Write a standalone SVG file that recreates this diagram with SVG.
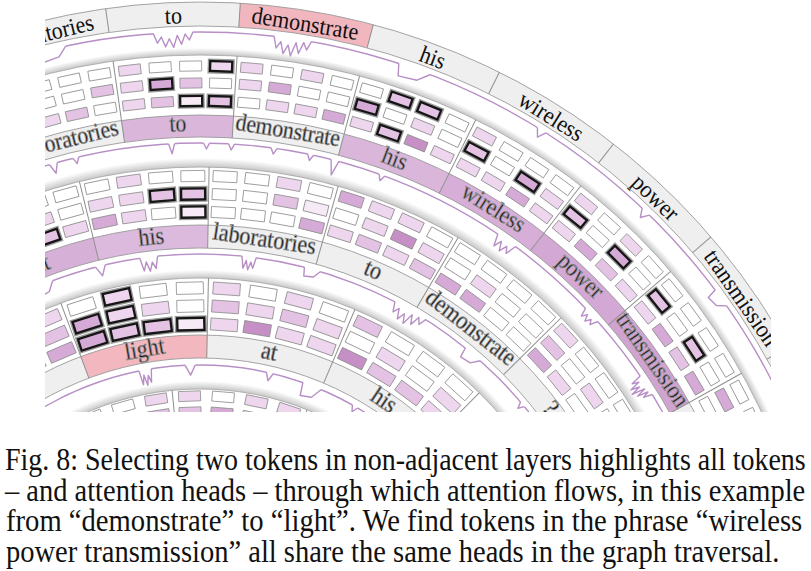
<svg xmlns="http://www.w3.org/2000/svg" width="811" height="571" viewBox="0 0 811 571">
<defs>
<style>
.bd{fill:none;stroke:#9a9a9a;stroke-width:.9}
.rb{fill:none;stroke:#b0b0b0;stroke-width:1}
.sp{stroke:#8f8f8f;stroke-width:1;fill:none}
.ln{fill:none;stroke:#b78fc6;stroke-width:1.4;vector-effect:non-scaling-stroke;stroke-linejoin:round}
.er{fill:none;stroke:#fff;stroke-width:3;vector-effect:non-scaling-stroke}
.tk{font-family:"Liberation Serif","Times New Roman",serif;fill:#111;text-anchor:middle}
.t1{font-size:24px}.t2{font-size:24.5px}.t3{font-size:25px}
.hd{stroke:#8c8c8c;stroke-width:.8}
.w{fill:#fff}.a{fill:#f6eaf6}.b{fill:#eed7ee}.c{fill:#e3c2e3}.d{fill:#d6aad6}.e{fill:#c690c6}
.H{fill:none;stroke:#9c9c9c;stroke-width:5}
.X{stroke:#151515;stroke-width:2.3}
.cap{font-family:"Liberation Serif","Times New Roman",serif;font-size:32px;fill:#111}
</style>
<clipPath id="clip"><rect x="45" y="0" width="726" height="412"/></clipPath>
<radialGradient id="sh" gradientUnits="userSpaceOnUse" cx="0" cy="0" r="673">
<stop offset="0" stop-color="#fff"/>
<stop offset=".425" stop-color="#fff"/><stop offset=".425" stop-color="#c8c8c8"/><stop offset=".4369" stop-color="#fff"/>
<stop offset=".5899" stop-color="#fff"/><stop offset=".5899" stop-color="#c8c8c8"/><stop offset=".6018" stop-color="#fff"/>
<stop offset=".7548" stop-color="#fff"/><stop offset=".7548" stop-color="#c8c8c8"/><stop offset=".7682" stop-color="#fff"/>
<stop offset=".9213" stop-color="#fff"/><stop offset=".9213" stop-color="#c8c8c8"/><stop offset=".9317" stop-color="#fff"/>
<stop offset="1" stop-color="#fff"/>
</radialGradient>
<rect id="h2" x="-11" y="-5" width="22" height="10"/>
<rect id="h3" x="-12" y="-5.5" width="24" height="11"/>
<rect id="h4" x="-13.5" y="-6" width="27" height="12"/>
<rect id="h5" x="-11" y="-5" width="22" height="10"/>
<g id="sV"><path class="er" d="M-5 0H5"/><path class="ln" d="M-5 0L0 10L5 0"/></g>
<g id="sv"><path class="er" d="M-3 0H3"/><path class="ln" d="M-3 0L0 6L3 0"/></g>
<g id="sZ"><path class="er" d="M-20 0H20"/><path class="ln" d="M-20 0L-16 10L-12 4L-8 14L-4 6L0 15L4 3L8 12L12 2L16 8L20 0"/></g>
<g id="sW"><path class="er" d="M-9 0H9"/><path class="ln" d="M-9 0L-6 12L-3 4L0 13L3 5L6 11L9 0"/></g>
<g id="sN"><path class="er" d="M-14 0H14"/><path class="ln" d="M-14 0L-11 11L5 9L14 0"/></g>
</defs>
<rect width="811" height="571" fill="#fff"/>
<g clip-path="url(#clip)">
<g transform="translate(200,675)">
<circle r="673" fill="url(#sh)"/>
<g id="ring-borders">
<circle class="rb" r="620"/><circle class="rb" r="508"/><circle class="rb" r="397"/><circle class="rb" r="286"/>
</g>

<!-- Layer 1 -->
<g id="layer1">
<circle r="661" fill="none" stroke="#efefef" stroke-width="24"/>
<g id="L1-demonstrate"><circle r="661" fill="none" stroke="#f2b6be" stroke-width="24" stroke-dasharray="132.56 5000" transform="rotate(-86.57)"/><text class="tk t1" transform="rotate(9.175)scale(.92,1)" y="-652">demonstrate</text></g>
<g id="L1-laboratories"><text class="tk t1" transform="rotate(-13.805)scale(.92,1)" y="-652">laboratories</text></g>
<g id="L1-to"><text class="tk t1" transform="rotate(-2.315)scale(.92,1)" y="-652">to</text></g>
<g id="L1-his"><text class="tk t1" transform="rotate(20.665)scale(.92,1)" y="-652">his</text></g>
<g id="L1-wireless"><text class="tk t1" transform="rotate(32.155)scale(.92,1)" y="-652">wireless</text></g>
<g id="L1-power"><text class="tk t1" transform="rotate(43.645)scale(.92,1)" y="-652">power</text></g>
<g id="L1-transmission"><text class="tk t1" transform="rotate(55.135)scale(.92,1)" y="-652">transmission</text></g>
<circle class="bd" r="649"/><circle class="bd" r="673"/>
<g class="sp">
<path transform="rotate(-8.06)" d="M0-649V-673"/><path transform="rotate(3.43)" d="M0-649V-673"/><path transform="rotate(14.92)" d="M0-649V-673"/><path transform="rotate(26.41)" d="M0-649V-673"/><path transform="rotate(37.9)" d="M0-649V-673"/><path transform="rotate(49.39)" d="M0-649V-673"/><path transform="rotate(60.88)" d="M0-649V-673"/>
</g>
</g>

<!-- Layer 2 -->
<g id="layer2">
<circle r="549" fill="none" stroke="#efefef" stroke-width="22"/>
<g class="hd">
<g id="L2-laboratories">
<text class="tk t2" transform="rotate(-13.805)scale(.88,1)" y="-544">laboratories</text>
<use href="#h2" class="w" transform="rotate(-18.11)translate(0,-609)"/><use href="#h2" class="w" transform="rotate(-15.24)translate(0,-609)"/><use href="#h2" class="w" transform="rotate(-12.37)translate(0,-609)"/><use href="#h2" class="w" transform="rotate(-9.5)translate(0,-609)"/>
<use href="#h2" class="b" transform="rotate(-18.11)translate(0,-592)"/><use href="#h2" class="w" transform="rotate(-15.24)translate(0,-592)"/><use href="#h2" class="w" transform="rotate(-12.37)translate(0,-592)"/><use href="#h2" class="c" transform="rotate(-9.5)translate(0,-592)"/>
<use href="#h2" class="b" transform="rotate(-18.11)translate(0,-574)"/><use href="#h2" class="b" transform="rotate(-15.24)translate(0,-574)"/><use href="#h2" class="c" transform="rotate(-12.37)translate(0,-574)"/><use href="#h2" class="w" transform="rotate(-9.5)translate(0,-574)"/>
</g>
<g id="L2-to">
<circle r="549" fill="none" stroke="#dab6db" stroke-width="22" stroke-dasharray="110.1 5000" transform="rotate(-98.06)"/>
<text class="tk t2" transform="rotate(-2.315)scale(.88,1)" y="-544">to</text>
<use href="#h2" class="b" transform="rotate(-6.62)translate(0,-609)"/><use href="#h2" class="w" transform="rotate(-3.75)translate(0,-609)"/><use href="#h2" class="w" transform="rotate(-0.88)translate(0,-609)"/>
<use href="#h2" class="b" transform="rotate(-6.62)translate(0,-592)"/><use href="#h2" class="c" transform="rotate(-0.88)translate(0,-592)"/><use href="#h2" class="w" transform="rotate(1.99)translate(0,-592)"/>
<use href="#h2" class="b" transform="rotate(-6.62)translate(0,-574)"/><use href="#h2" class="c" transform="rotate(-3.75)translate(0,-574)"/>
<use href="#h2" class="H" transform="rotate(1.99)translate(0,-609)"/><use href="#h2" class="X b" transform="rotate(1.99)translate(0,-609)"/>
<use href="#h2" class="H" transform="rotate(-3.75)translate(0,-592)"/><use href="#h2" class="X d" transform="rotate(-3.75)translate(0,-592)"/>
<use href="#h2" class="H" transform="rotate(-0.88)translate(0,-574)"/><use href="#h2" class="X a" transform="rotate(-0.88)translate(0,-574)"/>
<use href="#h2" class="H" transform="rotate(1.99)translate(0,-574)"/><use href="#h2" class="X c" transform="rotate(1.99)translate(0,-574)"/>
</g>
<g id="L2-demonstrate">
<text class="tk t2" transform="rotate(9.175)scale(.88,1)" y="-544">demonstrate</text>
<use href="#h2" class="b" transform="rotate(4.87)translate(0,-609)"/><use href="#h2" class="w" transform="rotate(7.74)translate(0,-609)"/><use href="#h2" class="b" transform="rotate(10.61)translate(0,-609)"/><use href="#h2" class="w" transform="rotate(13.48)translate(0,-609)"/>
<use href="#h2" class="b" transform="rotate(4.87)translate(0,-592)"/><use href="#h2" class="d" transform="rotate(7.74)translate(0,-592)"/><use href="#h2" class="w" transform="rotate(10.61)translate(0,-592)"/><use href="#h2" class="w" transform="rotate(13.48)translate(0,-592)"/>
<use href="#h2" class="w" transform="rotate(4.87)translate(0,-574)"/><use href="#h2" class="b" transform="rotate(7.74)translate(0,-574)"/><use href="#h2" class="b" transform="rotate(10.61)translate(0,-574)"/><use href="#h2" class="d" transform="rotate(13.48)translate(0,-574)"/>
</g>
<g id="L2-his">
<circle r="549" fill="none" stroke="#dab6db" stroke-width="22" stroke-dasharray="110.1 5000" transform="rotate(-75.08)"/>
<text class="tk t2" transform="rotate(20.665)scale(.88,1)" y="-544">his</text>
<use href="#h2" class="w" transform="rotate(16.36)translate(0,-609)"/><use href="#h2" class="w" transform="rotate(24.97)translate(0,-609)"/>
<use href="#h2" class="w" transform="rotate(19.23)translate(0,-592)"/><use href="#h2" class="b" transform="rotate(22.1)translate(0,-592)"/><use href="#h2" class="w" transform="rotate(24.97)translate(0,-592)"/>
<use href="#h2" class="b" transform="rotate(16.36)translate(0,-574)"/><use href="#h2" class="e" transform="rotate(22.1)translate(0,-574)"/><use href="#h2" class="b" transform="rotate(24.97)translate(0,-574)"/>
<use href="#h2" class="H" transform="rotate(19.23)translate(0,-609)"/><use href="#h2" class="X c" transform="rotate(19.23)translate(0,-609)"/>
<use href="#h2" class="H" transform="rotate(22.1)translate(0,-609)"/><use href="#h2" class="X c" transform="rotate(22.1)translate(0,-609)"/>
<use href="#h2" class="H" transform="rotate(16.36)translate(0,-592)"/><use href="#h2" class="X d" transform="rotate(16.36)translate(0,-592)"/>
<use href="#h2" class="H" transform="rotate(19.23)translate(0,-574)"/><use href="#h2" class="X c" transform="rotate(19.23)translate(0,-574)"/>
</g>
<g id="L2-wireless">
<circle r="549" fill="none" stroke="#d6aed7" stroke-width="22" stroke-dasharray="110.1 5000" transform="rotate(-63.59)"/>
<text class="tk t2" transform="rotate(32.155)scale(.88,1)" y="-544">wireless</text>
<use href="#h2" class="b" transform="rotate(27.85)translate(0,-609)"/><use href="#h2" class="w" transform="rotate(30.72)translate(0,-609)"/><use href="#h2" class="w" transform="rotate(33.59)translate(0,-609)"/><use href="#h2" class="w" transform="rotate(36.46)translate(0,-609)"/>
<use href="#h2" class="w" transform="rotate(30.72)translate(0,-592)"/><use href="#h2" class="b" transform="rotate(36.46)translate(0,-592)"/>
<use href="#h2" class="b" transform="rotate(27.85)translate(0,-574)"/><use href="#h2" class="b" transform="rotate(30.72)translate(0,-574)"/><use href="#h2" class="d" transform="rotate(33.59)translate(0,-574)"/><use href="#h2" class="b" transform="rotate(36.46)translate(0,-574)"/>
<use href="#h2" class="H" transform="rotate(27.85)translate(0,-592)"/><use href="#h2" class="X c" transform="rotate(27.85)translate(0,-592)"/>
<use href="#h2" class="H" transform="rotate(33.59)translate(0,-592)"/><use href="#h2" class="X d" transform="rotate(33.59)translate(0,-592)"/>
</g>
<g id="L2-power">
<circle r="549" fill="none" stroke="#d3a8d4" stroke-width="22" stroke-dasharray="110.1 5000" transform="rotate(-52.1)"/>
<text class="tk t2" transform="rotate(43.645)scale(.88,1)" y="-544">power</text>
<use href="#h2" class="b" transform="rotate(39.34)translate(0,-609)"/><use href="#h2" class="w" transform="rotate(42.21)translate(0,-609)"/><use href="#h2" class="b" transform="rotate(45.08)translate(0,-609)"/><use href="#h2" class="w" transform="rotate(47.95)translate(0,-609)"/>
<use href="#h2" class="w" transform="rotate(42.21)translate(0,-592)"/><use href="#h2" class="w" transform="rotate(47.95)translate(0,-592)"/>
<use href="#h2" class="b" transform="rotate(39.34)translate(0,-574)"/><use href="#h2" class="d" transform="rotate(42.21)translate(0,-574)"/><use href="#h2" class="c" transform="rotate(45.08)translate(0,-574)"/><use href="#h2" class="b" transform="rotate(47.95)translate(0,-574)"/>
<use href="#h2" class="H" transform="rotate(39.34)translate(0,-592)"/><use href="#h2" class="X c" transform="rotate(39.34)translate(0,-592)"/>
<use href="#h2" class="H" transform="rotate(45.08)translate(0,-592)"/><use href="#h2" class="X d" transform="rotate(45.08)translate(0,-592)"/>
</g>
<g id="L2-transmission">
<circle r="549" fill="none" stroke="#d0a3d1" stroke-width="22" stroke-dasharray="110.1 5000" transform="rotate(-40.61)"/>
<text class="tk t2" transform="rotate(55.135)scale(.88,1)" y="-544">transmission</text>
<use href="#h2" class="w" transform="rotate(50.83)translate(0,-609)"/><use href="#h2" class="w" transform="rotate(53.7)translate(0,-609)"/><use href="#h2" class="w" transform="rotate(56.57)translate(0,-609)"/><use href="#h2" class="w" transform="rotate(59.44)translate(0,-609)"/>
<use href="#h2" class="w" transform="rotate(53.7)translate(0,-592)"/><use href="#h2" class="w" transform="rotate(59.44)translate(0,-592)"/>
<use href="#h2" class="b" transform="rotate(50.83)translate(0,-574)"/><use href="#h2" class="d" transform="rotate(53.7)translate(0,-574)"/><use href="#h2" class="c" transform="rotate(56.57)translate(0,-574)"/><use href="#h2" class="d" transform="rotate(59.44)translate(0,-574)"/>
<use href="#h2" class="H" transform="rotate(50.83)translate(0,-592)"/><use href="#h2" class="X c" transform="rotate(50.83)translate(0,-592)"/>
<use href="#h2" class="H" transform="rotate(56.57)translate(0,-592)"/><use href="#h2" class="X c" transform="rotate(56.57)translate(0,-592)"/>
</g>
<g id="L2-next">
<use href="#h2" class="w" transform="rotate(62.32)translate(0,-609)"/><use href="#h2" class="w" transform="rotate(65.19)translate(0,-609)"/>
<use href="#h2" class="d" transform="rotate(62.32)translate(0,-592)"/><use href="#h2" class="w" transform="rotate(65.19)translate(0,-592)"/>
<use href="#h2" class="w" transform="rotate(62.32)translate(0,-574)"/><use href="#h2" class="b" transform="rotate(65.19)translate(0,-574)"/>
</g>
</g>
<circle class="bd" r="538"/><circle class="bd" r="560"/>
<g class="sp">
<path transform="rotate(-8.06)" d="M0-538V-620"/><path transform="rotate(3.43)" d="M0-538V-620"/><path transform="rotate(14.92)" d="M0-538V-620"/><path transform="rotate(26.41)" d="M0-538V-620"/><path transform="rotate(37.9)" d="M0-538V-620"/><path transform="rotate(49.39)" d="M0-538V-620"/><path transform="rotate(60.88)" d="M0-538V-620"/>
</g>
</g>

<!-- Layer 3 -->
<g id="layer3">
<circle r="438.5" fill="none" stroke="#efefef" stroke-width="23"/>
<g class="hd">
<g id="L3-at">
<circle r="438.5" fill="none" stroke="#d6b0d7" stroke-width="23" stroke-dasharray="112.96 5000" transform="rotate(-118.49)"/>
<text class="tk t3" transform="rotate(-21.11)scale(.88,1)" y="-433">at</text>
<use href="#h3" class="w" transform="rotate(-19.27)translate(0,-499)"/><use href="#h3" class="w" transform="rotate(-15.58)translate(0,-499)"/>
<use href="#h3" class="b" transform="rotate(-19.27)translate(0,-481)"/><use href="#h3" class="w" transform="rotate(-15.58)translate(0,-481)"/>
<use href="#h3" class="b" transform="rotate(-15.58)translate(0,-463)"/>
<use href="#h3" class="H" transform="rotate(-19.27)translate(0,-463)"/><use href="#h3" class="X c" transform="rotate(-19.27)translate(0,-463)"/>
</g>
<g id="L3-his">
<circle r="438.5" fill="none" stroke="#dcbadd" stroke-width="23" stroke-dasharray="112.96 5000" transform="rotate(-103.73)"/>
<text class="tk t3" transform="rotate(-6.35)scale(.88,1)" y="-433">his</text>
<use href="#h3" class="w" transform="rotate(-11.89)translate(0,-499)"/><use href="#h3" class="b" transform="rotate(-8.2)translate(0,-499)"/><use href="#h3" class="w" transform="rotate(-4.51)translate(0,-499)"/><use href="#h3" class="w" transform="rotate(-0.82)translate(0,-499)"/>
<use href="#h3" class="b" transform="rotate(-11.89)translate(0,-481)"/><use href="#h3" class="b" transform="rotate(-8.2)translate(0,-481)"/>
<use href="#h3" class="d" transform="rotate(-11.89)translate(0,-463)"/><use href="#h3" class="b" transform="rotate(-8.2)translate(0,-463)"/><use href="#h3" class="w" transform="rotate(-4.51)translate(0,-463)"/>
<use href="#h3" class="H" transform="rotate(-4.51)translate(0,-481)"/><use href="#h3" class="X c" transform="rotate(-4.51)translate(0,-481)"/>
<use href="#h3" class="H" transform="rotate(-0.82)translate(0,-481)"/><use href="#h3" class="X c" transform="rotate(-0.82)translate(0,-481)"/>
<use href="#h3" class="H" transform="rotate(-0.82)translate(0,-463)"/><use href="#h3" class="X a" transform="rotate(-0.82)translate(0,-463)"/>
</g>
<g id="L3-laboratories">
<text class="tk t3" transform="rotate(8.41)scale(.88,1)" y="-433">laboratories</text>
<use href="#h3" class="w" transform="rotate(2.88)translate(0,-499)"/><use href="#h3" class="w" transform="rotate(6.57)translate(0,-499)"/><use href="#h3" class="b" transform="rotate(10.26)translate(0,-499)"/><use href="#h3" class="w" transform="rotate(13.95)translate(0,-499)"/>
<use href="#h3" class="w" transform="rotate(2.88)translate(0,-481)"/><use href="#h3" class="w" transform="rotate(6.57)translate(0,-481)"/><use href="#h3" class="c" transform="rotate(10.26)translate(0,-481)"/><use href="#h3" class="a" transform="rotate(13.95)translate(0,-481)"/>
<use href="#h3" class="w" transform="rotate(2.88)translate(0,-463)"/><use href="#h3" class="w" transform="rotate(6.57)translate(0,-463)"/><use href="#h3" class="w" transform="rotate(10.26)translate(0,-463)"/><use href="#h3" class="d" transform="rotate(13.95)translate(0,-463)"/>
</g>
<g id="L3-to">
<text class="tk t3" transform="rotate(23.17)scale(.88,1)" y="-433">to</text>
<use href="#h3" class="d" transform="rotate(17.64)translate(0,-499)"/><use href="#h3" class="b" transform="rotate(21.33)translate(0,-499)"/><use href="#h3" class="b" transform="rotate(25.02)translate(0,-499)"/><use href="#h3" class="w" transform="rotate(28.71)translate(0,-499)"/>
<use href="#h3" class="w" transform="rotate(17.64)translate(0,-481)"/><use href="#h3" class="b" transform="rotate(21.33)translate(0,-481)"/><use href="#h3" class="e" transform="rotate(25.02)translate(0,-481)"/><use href="#h3" class="b" transform="rotate(28.71)translate(0,-481)"/>
<use href="#h3" class="b" transform="rotate(17.64)translate(0,-463)"/><use href="#h3" class="c" transform="rotate(21.33)translate(0,-463)"/><use href="#h3" class="b" transform="rotate(25.02)translate(0,-463)"/><use href="#h3" class="c" transform="rotate(28.71)translate(0,-463)"/>
</g>
<g id="L3-demonstrate">
<text class="tk t3" transform="rotate(37.93)scale(.88,1)" y="-433">demonstrate</text>
<use href="#h3" class="w" transform="rotate(32.4)translate(0,-499)"/><use href="#h3" class="w" transform="rotate(36.09)translate(0,-499)"/><use href="#h3" class="w" transform="rotate(39.78)translate(0,-499)"/><use href="#h3" class="w" transform="rotate(43.47)translate(0,-499)"/>
<use href="#h3" class="w" transform="rotate(32.4)translate(0,-481)"/><use href="#h3" class="b" transform="rotate(36.09)translate(0,-481)"/><use href="#h3" class="w" transform="rotate(39.78)translate(0,-481)"/><use href="#h3" class="w" transform="rotate(43.47)translate(0,-481)"/>
<use href="#h3" class="d" transform="rotate(32.4)translate(0,-463)"/><use href="#h3" class="d" transform="rotate(36.09)translate(0,-463)"/><use href="#h3" class="w" transform="rotate(39.78)translate(0,-463)"/><use href="#h3" class="w" transform="rotate(43.47)translate(0,-463)"/>
</g>
<g id="L3-q">
<text class="tk t3" transform="rotate(52.69)scale(.88,1)" y="-433">?</text>
<use href="#h3" class="b" transform="rotate(47.16)translate(0,-499)"/><use href="#h3" class="w" transform="rotate(50.85)translate(0,-499)"/><use href="#h3" class="w" transform="rotate(54.54)translate(0,-499)"/><use href="#h3" class="w" transform="rotate(58.23)translate(0,-499)"/>
<use href="#h3" class="c" transform="rotate(47.16)translate(0,-481)"/><use href="#h3" class="w" transform="rotate(50.85)translate(0,-481)"/><use href="#h3" class="b" transform="rotate(54.54)translate(0,-481)"/><use href="#h3" class="w" transform="rotate(58.23)translate(0,-481)"/>
<use href="#h3" class="d" transform="rotate(47.16)translate(0,-463)"/><use href="#h3" class="b" transform="rotate(50.85)translate(0,-463)"/><use href="#h3" class="w" transform="rotate(54.54)translate(0,-463)"/><use href="#h3" class="w" transform="rotate(58.23)translate(0,-463)"/>
</g>
</g>
<circle class="bd" r="427"/><circle class="bd" r="450"/>
<g class="sp">
<path transform="rotate(-13.73)" d="M0-427V-508"/><path transform="rotate(1.03)" d="M0-427V-508"/><path transform="rotate(15.79)" d="M0-427V-508"/><path transform="rotate(30.55)" d="M0-427V-508"/><path transform="rotate(45.31)" d="M0-427V-508"/><path transform="rotate(60.07)" d="M0-427V-508"/>
</g>
</g>

<!-- Layer 4 -->
<g id="layer4">
<circle r="328.5" fill="none" stroke="#efefef" stroke-width="23"/>
<g class="hd">
<g id="L4-prev">
<use href="#h4" class="w" transform="rotate(-28.67)translate(0,-387)"/><use href="#h4" class="b" transform="rotate(-23.24)translate(0,-387)"/>
<use href="#h4" class="w" transform="rotate(-28.67)translate(0,-369)"/><use href="#h4" class="c" transform="rotate(-23.24)translate(0,-369)"/>
<use href="#h4" class="b" transform="rotate(-28.67)translate(0,-351)"/><use href="#h4" class="d" transform="rotate(-23.24)translate(0,-351)"/>
</g>
<g id="L4-light">
<circle r="328.5" fill="none" stroke="#f3b7bf" stroke-width="23" stroke-dasharray="124.65 5000" transform="rotate(-110.52)"/>
<text class="tk t3" transform="rotate(-9.65)scale(.88,1)" y="-323">light</text>
<use href="#h4" class="w" transform="rotate(-17.8)translate(0,-387)"/><use href="#h4" class="w" transform="rotate(-6.93)translate(0,-387)"/><use href="#h4" class="w" transform="rotate(-1.5)translate(0,-387)"/>
<use href="#h4" class="b" transform="rotate(-6.93)translate(0,-369)"/><use href="#h4" class="w" transform="rotate(-1.5)translate(0,-369)"/>
<use href="#h4" class="H" transform="rotate(-12.37)translate(0,-387)"/><use href="#h4" class="X b" transform="rotate(-12.37)translate(0,-387)"/>
<use href="#h4" class="H" transform="rotate(-17.8)translate(0,-369)"/><use href="#h4" class="X d" transform="rotate(-17.8)translate(0,-369)"/>
<use href="#h4" class="H" transform="rotate(-12.37)translate(0,-369)"/><use href="#h4" class="X b" transform="rotate(-12.37)translate(0,-369)"/>
<use href="#h4" class="H" transform="rotate(-17.8)translate(0,-351)"/><use href="#h4" class="X d" transform="rotate(-17.8)translate(0,-351)"/>
<use href="#h4" class="H" transform="rotate(-12.37)translate(0,-351)"/><use href="#h4" class="X c" transform="rotate(-12.37)translate(0,-351)"/>
<use href="#h4" class="H" transform="rotate(-6.93)translate(0,-351)"/><use href="#h4" class="X c" transform="rotate(-6.93)translate(0,-351)"/>
<use href="#h4" class="H" transform="rotate(-1.5)translate(0,-351)"/><use href="#h4" class="X a" transform="rotate(-1.5)translate(0,-351)"/>
</g>
<g id="L4-at">
<text class="tk t3" transform="rotate(12.09)scale(.88,1)" y="-323">at</text>
<use href="#h4" class="b" transform="rotate(3.94)translate(0,-387)"/><use href="#h4" class="w" transform="rotate(9.37)translate(0,-387)"/><use href="#h4" class="b" transform="rotate(14.81)translate(0,-387)"/><use href="#h4" class="w" transform="rotate(20.24)translate(0,-387)"/>
<use href="#h4" class="c" transform="rotate(3.94)translate(0,-369)"/><use href="#h4" class="b" transform="rotate(9.37)translate(0,-369)"/><use href="#h4" class="c" transform="rotate(14.81)translate(0,-369)"/><use href="#h4" class="b" transform="rotate(20.24)translate(0,-369)"/>
<use href="#h4" class="b" transform="rotate(3.94)translate(0,-351)"/><use href="#h4" class="e" transform="rotate(9.37)translate(0,-351)"/><use href="#h4" class="b" transform="rotate(14.81)translate(0,-351)"/><use href="#h4" class="b" transform="rotate(20.24)translate(0,-351)"/>
</g>
<g id="L4-his">
<text class="tk t3" transform="rotate(33.83)scale(.88,1)" y="-323">his</text>
<use href="#h4" class="c" transform="rotate(25.68)translate(0,-387)"/><use href="#h4" class="w" transform="rotate(31.11)translate(0,-387)"/><use href="#h4" class="w" transform="rotate(36.55)translate(0,-387)"/><use href="#h4" class="w" transform="rotate(41.98)translate(0,-387)"/>
<use href="#h4" class="w" transform="rotate(25.68)translate(0,-369)"/><use href="#h4" class="b" transform="rotate(31.11)translate(0,-369)"/><use href="#h4" class="w" transform="rotate(36.55)translate(0,-369)"/><use href="#h4" class="b" transform="rotate(41.98)translate(0,-369)"/>
<use href="#h4" class="e" transform="rotate(25.68)translate(0,-351)"/><use href="#h4" class="c" transform="rotate(31.11)translate(0,-351)"/><use href="#h4" class="c" transform="rotate(36.55)translate(0,-351)"/><use href="#h4" class="b" transform="rotate(41.98)translate(0,-351)"/>
</g>
</g>
<circle class="bd" r="317"/><circle class="bd" r="340"/>
<g class="sp">
<path transform="rotate(-20.52)" d="M0-317V-397"/><path transform="rotate(1.22)" d="M0-317V-397"/><path transform="rotate(22.96)" d="M0-317V-397"/><path transform="rotate(44.7)" d="M0-317V-397"/>
</g>
</g>

<!-- Layer 5 -->
<g id="layer5">
<g class="hd">
<g id="L5-a">
<use href="#h5" class="w" transform="rotate(-22.85)translate(0,-279)"/><use href="#h5" class="w" transform="rotate(-15.95)translate(0,-279)"/><use href="#h5" class="b" transform="rotate(-9.05)translate(0,-279)"/>
<use href="#h5" class="w" transform="rotate(-15.95)translate(0,-263)"/><use href="#h5" class="c" transform="rotate(-9.05)translate(0,-263)"/>
</g>
<g id="L5-b">
<use href="#h5" class="b" transform="rotate(-2.15)translate(0,-279)"/><use href="#h5" class="w" transform="rotate(4.75)translate(0,-279)"/><use href="#h5" class="b" transform="rotate(11.65)translate(0,-279)"/><use href="#h5" class="b" transform="rotate(18.55)translate(0,-279)"/>
<use href="#h5" class="c" transform="rotate(-2.15)translate(0,-263)"/><use href="#h5" class="d" transform="rotate(4.75)translate(0,-263)"/><use href="#h5" class="b" transform="rotate(11.65)translate(0,-263)"/><use href="#h5" class="w" transform="rotate(18.55)translate(0,-263)"/>
</g>
</g>
<g class="sp">
<path transform="rotate(-33.2)" d="M0-240V-286"/><path transform="rotate(-5.6)" d="M0-240V-286"/><path transform="rotate(22)" d="M0-240V-286"/>
</g>
</g>

<!-- line charts -->
<g id="connectors">
<circle class="ln" r="643"/>
<use href="#sN" transform="rotate(-13.3)translate(0,-643)"/>
<use href="#sZ" transform="rotate(-2.4)translate(0,-643)"/>
<use href="#sZ" transform="rotate(8.3)translate(0,-643)scale(.95,1.15)"/>
<use href="#sN" transform="rotate(19.5)translate(0,-643)scale(1.2,1.1)"/>
<use href="#sV" transform="rotate(32.1)translate(0,-643)scale(1,.8)"/>
<use href="#sV" transform="rotate(43.9)translate(0,-643)scale(1,.8)"/>
<use href="#sN" transform="rotate(54.1)translate(0,-643)scale(.7,.9)"/>
<circle class="ln" r="532"/>
<use href="#sV" transform="rotate(-16)translate(0,-532)scale(.8,1)"/>
<use href="#sv" transform="rotate(-13.5)translate(0,-532)"/>
<use href="#sV" transform="rotate(-3.06)translate(0,-532)scale(.6,1)"/>
<use href="#sv" transform="rotate(0.7)translate(0,-532)"/>
<use href="#sv" transform="rotate(3.4)translate(0,-532)"/>
<use href="#sv" transform="rotate(8)translate(0,-532)"/>
<use href="#sv" transform="rotate(12)translate(0,-532)"/>
<use href="#sV" transform="rotate(14.7)translate(0,-532)scale(.8,1.5)"/>
<use href="#sv" transform="rotate(20)translate(0,-532)"/>
<use href="#sW" transform="rotate(35.2)translate(0,-532)scale(1.2,1)"/>
<use href="#sW" transform="rotate(47.4)translate(0,-532)scale(1,.7)"/>
<use href="#sZ" transform="rotate(57)translate(0,-532)scale(.55,1.1)"/>
<circle class="ln" r="421"/>
<use href="#sN" transform="rotate(-22)translate(0,-421)scale(.8,1)"/>
<use href="#sV" transform="rotate(-13.7)translate(0,-421)"/>
<use href="#sW" transform="rotate(-7)translate(0,-421)scale(1,1.1)"/>
<use href="#sW" transform="rotate(6.7)translate(0,-421)scale(.8,1)"/>
<use href="#sN" transform="rotate(15.5)translate(0,-421)scale(.6,.8)"/>
<use href="#sZ" transform="rotate(30)translate(0,-421)scale(.9,1)"/>
<use href="#sN" transform="rotate(40.4)translate(0,-421)scale(.7,.9)"/>
<use href="#sv" transform="rotate(50)translate(0,-421)"/>
<circle class="ln" r="310"/>
<use href="#sW" transform="rotate(-10.2)translate(0,-310)scale(.7,1.2)"/>
<use href="#sV" transform="rotate(-1.8)translate(0,-310)"/>
<use href="#sV" transform="rotate(13)translate(0,-310)scale(.7,.8)"/>
<use href="#sN" transform="rotate(21.2)translate(0,-310)scale(.7,1.2)"/>
<use href="#sv" transform="rotate(30)translate(0,-310)"/>
<use href="#sv" transform="rotate(40)translate(0,-310)"/>
</g>
</g>
</g>

<g id="caption" class="cap">
<text transform="translate(5,470)scale(.874,1)">Fig. 8: Selecting two tokens in non-adjacent layers highlights all tokens</text>
<text transform="translate(5,500.5)scale(.89,1)">– and attention heads – through which attention flows, in this example</text>
<text transform="translate(6,531)scale(.895,1)">from “demonstrate” to “light”. We find tokens in the phrase “wireless</text>
<text transform="translate(6,561.5)scale(.891,1)">power transmission” all share the same heads in the graph traversal.</text>
</g>
</svg>
